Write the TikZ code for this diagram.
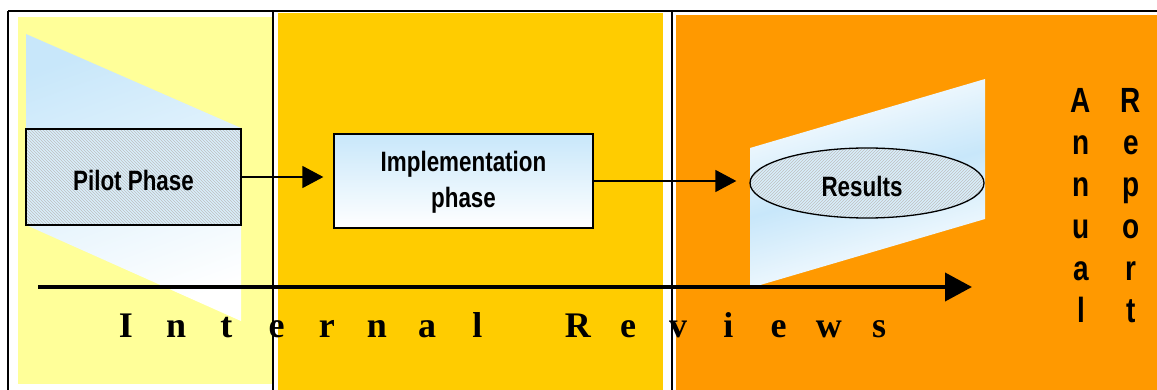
\documentclass[tikz,border=0pt]{standalone}
\usepackage{fontspec}
\setmainfont{Liberation Serif}
\newfontfamily\nsans[FakeStretch=0.8]{Liberation Sans}
\usetikzlibrary{arrows.meta,shapes.geometric,patterns}
\definecolor{pyellow}{HTML}{FFFF99}
\definecolor{pgold}{HTML}{FFCC00}
\definecolor{porange}{HTML}{FF9900}
\definecolor{lblue}{HTML}{C8E7FA}
\tikzset{
  frameline/.style={draw=black, line width=1.5pt},
  hatchbox/.style={draw=black, line width=1.3pt, preaction={fill=lblue!70!white},
    pattern=north west lines, pattern color=gray!50},
  boxtext/.style={font=\nsans\bfseries\fontsize{28}{36}\selectfont, align=center, text=black},
  flowarrow/.style={line width=1.5pt, -{Triangle[length=21pt,width=22pt]}},
  bigarrow/.style={line width=4pt, -{Triangle[length=27pt,width=28pt]}},
  irletter/.style={font=\bfseries\fontsize{36}{40}\selectfont, anchor=base, inner sep=0pt},
  arletter/.style={font=\nsans\bfseries\fontsize{35}{40}\selectfont, anchor=base, inner sep=0pt},
}
\begin{document}
\begin{tikzpicture}[x=1pt,y=-1pt]
\useasboundingbox (0,0) rectangle (1157,390);
\fill[white] (0,0) rectangle (1157,390);
% panels
\fill[pyellow] (18,17) rectangle (272,384);
\fill[pgold] (278,13) rectangle (663,390);
\fill[porange] (676,15) rectangle (1157,390);
% frame lines
\draw[frameline] (8,11) -- (1157,11);
\draw[frameline] (8,11) -- (8,390);
\draw[frameline] (273,11) -- (273,390);
\draw[frameline] (672,11) -- (672,390);
% left trapezoid
\shade[top color=lblue, bottom color=white, shading angle=20]
  (26,34) -- (241,128) -- (241,321) -- (26,225) -- cycle;
% results parallelogram
\shade[top color=white, bottom color=white, middle color=lblue, shading angle=16]
  (750,148) -- (985,79) -- (985,219) -- (750,288) -- cycle;
% nodes
\node[hatchbox, minimum width=215pt, minimum height=96pt, inner sep=0pt] (pilot) at (133.5,177) {};
\node[boxtext] (pilottxt) at (133.5,180) {Pilot Phase};
\node[draw=black, line width=1.3pt, top color=lblue, bottom color=white,
  minimum width=259pt, minimum height=94pt, inner sep=0pt] (impl) at (463.5,181) {};
\node[boxtext] (impltxt) at (463.5,182) {Implementation\\phase};
\node[ellipse, hatchbox, minimum width=234pt, minimum height=70pt, inner sep=0pt,
  pattern=north east lines] (res) at (867,183) {};
\node[boxtext] (restxt) at (862,186) {Results};
% arrows
\draw[flowarrow, shorten >=10pt] (pilot.east) -- (pilot.east -| impl.west);
\draw[flowarrow, shorten >=13pt] (impl.east) -- (impl.east -| res.west);
\coordinate (rs) at (38,287);
\coordinate (re) at (972,287);
\draw[bigarrow] (rs) -- (re);
% Internal Reviews
\foreach \ch [count=\i from 0] in {I,n,t,e,r,n,a,l,{},R,e,v,i,e,w,s}{
  \node[irletter] (ir\i) at (126+50.2*\i,337) {\ch};
}
% Annual Report
\foreach \ch [count=\i from 0] in {A,n,n,u,a,l}{
  \node[arletter] (an\i) at (1081,113+41.8*\i) {\ch};
}
\foreach \ch [count=\i from 0] in {R,e,p,o,r,t}{
  \node[arletter] (rp\i) at (1131,113+41.8*\i) {\ch};
}
\end{tikzpicture}
\end{document}
